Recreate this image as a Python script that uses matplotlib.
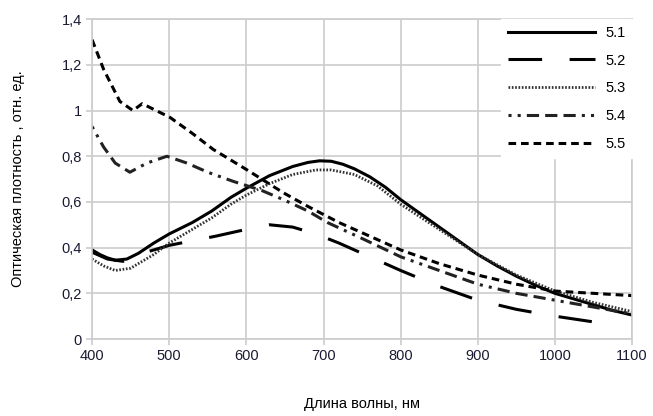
import matplotlib.pyplot as plt
import numpy as np

plt.rcParams['font.family'] = ['Liberation Sans', 'DejaVu Sans']

# data
wl_51 = [400, 410, 420, 430, 445, 460, 480, 500, 530, 555, 580, 600, 630, 660, 680, 695, 710, 725, 740, 760, 780, 800, 825, 850, 875, 900, 925, 950, 975, 1000, 1025, 1050, 1075, 1100]
od_51 = [0.39, 0.37, 0.355, 0.345, 0.35, 0.375, 0.42, 0.46, 0.51, 0.56, 0.62, 0.66, 0.715, 0.755, 0.773, 0.78, 0.778, 0.765, 0.745, 0.71, 0.665, 0.61, 0.55, 0.49, 0.43, 0.37, 0.32, 0.275, 0.235, 0.20, 0.175, 0.15, 0.125, 0.105]

wl_52 = [400, 420, 440, 470, 500, 530, 560, 600, 630, 660, 690, 720, 760, 800, 850, 900, 950, 1000, 1050, 1080]
od_52 = [0.38, 0.35, 0.34, 0.38, 0.41, 0.43, 0.45, 0.48, 0.50, 0.49, 0.46, 0.42, 0.36, 0.30, 0.23, 0.17, 0.13, 0.10, 0.075, 0.065]

wl_53 = [400, 415, 430, 450, 480, 500, 530, 555, 580, 600, 630, 660, 690, 710, 740, 770, 800, 850, 900, 950, 1000, 1050, 1100]
od_53 = [0.35, 0.32, 0.30, 0.31, 0.37, 0.42, 0.48, 0.53, 0.59, 0.63, 0.68, 0.72, 0.74, 0.74, 0.72, 0.67, 0.59, 0.48, 0.37, 0.28, 0.21, 0.16, 0.12]

wl_54 = [400, 415, 430, 449, 471, 497, 523, 550, 583, 620, 648, 680, 705, 750, 800, 850, 900, 950, 1000, 1050, 1100]
od_54 = [0.93, 0.84, 0.77, 0.73, 0.77, 0.80, 0.77, 0.73, 0.69, 0.65, 0.61, 0.56, 0.51, 0.44, 0.36, 0.30, 0.24, 0.20, 0.17, 0.14, 0.11]

wl_55 = [400, 415, 436, 453, 465, 501, 530, 557, 601, 648, 680, 720, 760, 800, 850, 900, 950, 1000, 1050, 1100]
od_55 = [1.31, 1.18, 1.04, 1.00, 1.03, 0.97, 0.90, 0.83, 0.74, 0.64, 0.58, 0.51, 0.45, 0.39, 0.33, 0.28, 0.24, 0.21, 0.20, 0.19]

labels = ['5.1', '5.2', '5.3', '5.4', '5.5']

fig = plt.figure(figsize=(6.53, 4.16), dpi=100)
ax = fig.add_axes([0.141, 0.185, 0.827, 0.769])

ax.plot(wl_51, od_51, color='black', lw=2.2, ls='-', label=labels[0])
ax.plot(wl_52, od_52, color='black', lw=2.2, dashes=(11, 9), label=labels[1])
ax.plot(wl_53, od_53, color='#333333', lw=2.0, dashes=(0.6, 0.6), label=labels[2])
ax.plot(wl_54, od_54, color='#222222', lw=2.2, dashes=(1, 2, 1, 2, 4, 2, 4, 2, 4, 2), label=labels[3])
ax.plot(wl_55, od_55, color='black', lw=2.2, dashes=(2.5, 1.6), label=labels[4])

ax.set_xlim(400, 1100)
ax.set_ylim(0, 1.4)
ax.set_xticks(np.arange(400, 1101, 100))
ax.set_yticks(np.arange(0, 1.41, 0.2))
ax.set_yticklabels(['0', '0,2', '0,4', '0,6', '0,8', '1', '1,2', '1,4'])
ax.grid(True, color='#cccccc', lw=1.2)
ax.set_axisbelow(True)
for s in ax.spines.values():
    s.set_color('#cccccc')
    s.set_linewidth(1.2)
ax.tick_params(colors='#cccccc', labelcolor='#1a1a33', labelsize=10.5, length=4, width=1.2)

ax.set_xlabel('Длина волны, нм', fontsize=10.5, labelpad=24)
ax.set_ylabel('Оптическая плотность , отн. ед.', fontsize=10.5, labelpad=26)

leg = ax.legend(loc='upper right', frameon=True, fancybox=False, edgecolor='white',
                framealpha=1, borderaxespad=0, handlelength=6, fontsize=10.5,
                labelspacing=0.95, handletextpad=0.7, borderpad=0.45)

fig.savefig('out.png', dpi=100)
